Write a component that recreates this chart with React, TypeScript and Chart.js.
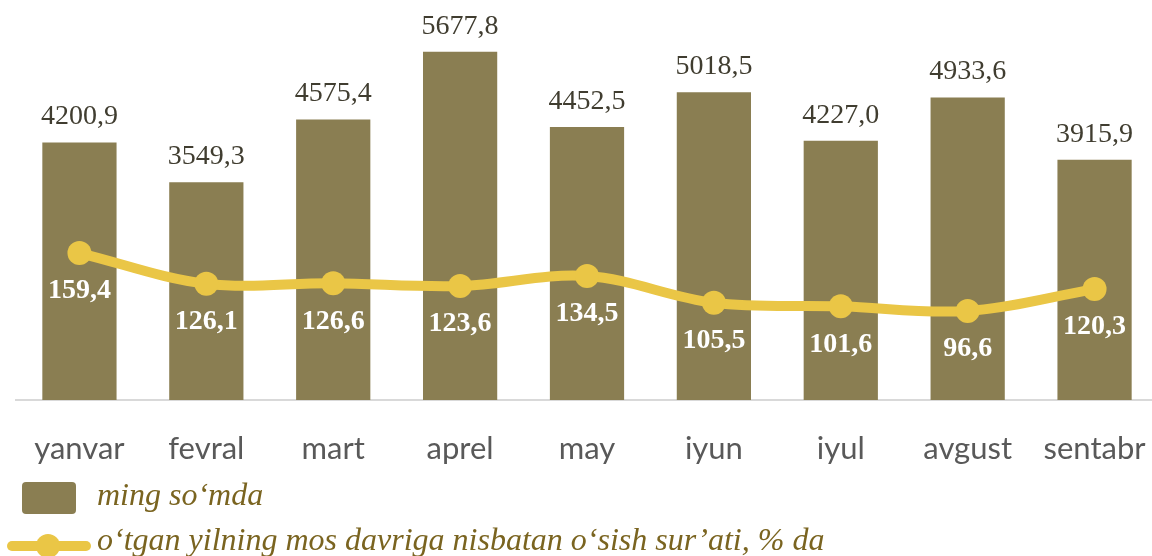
import React, { useEffect, useRef } from "react";
import { Chart, registerables } from "chart.js";

Chart.register(...registerables);

const categories = ["yanvar", "fevral", "mart", "aprel", "may", "iyun", "iyul", "avgust", "sentabr"];
const amountValues = [4200.9, 3549.3, 4575.4, 5677.8, 4452.5, 5018.5, 4227.0, 4933.6, 3915.9];
const growthValues = [159.4, 126.1, 126.6, 123.6, 134.5, 105.5, 101.6, 96.6, 120.3];
const amountLabel = "ming so‘mda";
const growthLabel = "o‘tgan yilning mos davriga nisbatan o‘sish sur’ati, % da";

const BAR_COLOR = "#8A7E52";
const LINE_COLOR = "#EAC646";
const LEGEND_TEXT = "#7A6420";

const fmt = (v: number) => v.toFixed(1).replace(".", ",");

const labelsPlugin = {
  id: "customLabels",
  afterDatasetsDraw(chart: any) {
    const ctx = chart.ctx;
    ctx.save();
    const barMeta = chart.getDatasetMeta(0);
    ctx.font = "28px 'Liberation Serif', 'Times New Roman', serif";
    ctx.fillStyle = "#403D30";
    ctx.textAlign = "center";
    ctx.textBaseline = "alphabetic";
    barMeta.data.forEach((el: any, i: number) => {
      ctx.fillText(fmt(amountValues[i]), el.x, el.y - 18);
    });
    const lineMeta = chart.getDatasetMeta(1);
    ctx.font = "bold 28px 'Liberation Serif', 'Times New Roman', serif";
    ctx.fillStyle = "#FFFFFF";
    ctx.textBaseline = "middle";
    lineMeta.data.forEach((el: any, i: number) => {
      ctx.fillText(fmt(growthValues[i]), el.x, el.y + 38);
    });
    ctx.restore();
  },
  afterDraw(chart: any) {
    const ctx = chart.ctx;
    ctx.save();
    ctx.fillStyle = BAR_COLOR;
    ctx.beginPath();
    (ctx as any).roundRect(22, 482, 54, 32, 4);
    ctx.fill();
    ctx.font = "italic 32px 'Liberation Serif', 'Times New Roman', serif";
    ctx.fillStyle = LEGEND_TEXT;
    ctx.textAlign = "left";
    ctx.textBaseline = "alphabetic";
    ctx.fillText(amountLabel, 97, 505);
    ctx.strokeStyle = LINE_COLOR;
    ctx.lineWidth = 10;
    ctx.lineCap = "round";
    ctx.beginPath();
    ctx.moveTo(12, 546);
    ctx.lineTo(86, 546);
    ctx.stroke();
    ctx.fillStyle = LINE_COLOR;
    ctx.beginPath();
    ctx.arc(48, 546, 12, 0, Math.PI * 2);
    ctx.fill();
    ctx.fillStyle = LEGEND_TEXT;
    ctx.fillText(growthLabel, 97, 550);
    ctx.restore();
  },
};

export default function App() {
  const ref = useRef<HTMLCanvasElement | null>(null);
  useEffect(() => {
    if (!ref.current) return;
    const chart = new Chart(ref.current, {
      type: "bar",
      data: {
        labels: categories,
        datasets: [
          {
            type: "bar",
            label: amountLabel,
            data: amountValues,
            yAxisID: "y",
            backgroundColor: BAR_COLOR,
            barPercentage: 0.585,
            categoryPercentage: 1,
            order: 1,
          } as any,
          {
            type: "line",
            label: growthLabel,
            data: growthValues,
            yAxisID: "y2",
            borderColor: LINE_COLOR,
            backgroundColor: LINE_COLOR,
            borderWidth: 10,
            pointRadius: 12,
            pointBackgroundColor: LINE_COLOR,
            pointBorderWidth: 0,
            tension: 0.35,
            order: 0,
          } as any,
        ],
      },
      options: {
        responsive: false,
        animation: false,
        layout: { autoPadding: false, padding: { top: 10, right: 2, left: 16, bottom: 86 } },
        plugins: { legend: { display: false }, tooltip: { enabled: false } },
        scales: {
          x: {
            grid: { display: true, drawOnChartArea: false, drawTicks: true, tickLength: 30, color: "rgba(0,0,0,0)" },
            border: { display: true, color: "#D9D9D9", width: 2 },
            ticks: {
              color: "#595959",
              font: { family: "Lato", size: 31 },
              padding: 0,
              maxRotation: 0,
              autoSkip: false,
            },
            afterFit(scale: any) {
              scale.height = 70;
            },
          },
          y: { display: false, min: 0, max: 6360 },
          y2: { display: false, min: 0, max: 423, position: "right" },
        },
      },
      plugins: [labelsPlugin],
    });
    return () => chart.destroy();
  }, []);
  return (
    <div style={{ position: "absolute", left: 0, top: 0, width: 1152, height: 556, overflow: "hidden", background: "#fff" }}>
      <canvas ref={ref} width={1160} height={556} style={{ display: "block" }} />
    </div>
  );
}
